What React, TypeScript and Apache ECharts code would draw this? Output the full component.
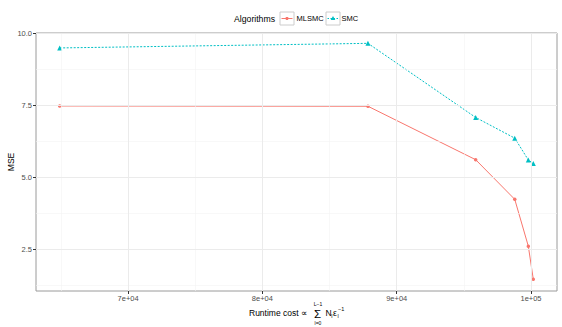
import React, { useEffect, useRef } from "react";
import * as echarts from "echarts";

const runtimeCost = [64907, 87860, 95880, 98790, 99800, 100170];
const mlsmcMSE = [7.48, 7.47, 5.61, 4.23, 2.6, 1.45];
const smcMSE = [9.5, 9.66, 7.08, 6.36, 5.6, 5.48];
const xTickValues = [70000, 80000, 90000, 100000];
const xTickLabels = ["7e+04", "8e+04", "9e+04", "1e+05"];
const xMinorGrid = [65000, 75000, 85000, 95000];
const yTickValues = [2.5, 5.0, 7.5, 10.0];
const yTickLabels = ["2.5", "5.0", "7.5", "10.0"];
const yMinorGrid = [1.25, 3.75, 6.25, 8.75];
const seriesNames = ["MLSMC", "SMC"];
const legendTitle = "Algorithms";
const yTitle = "MSE";

const RED = "#F8766D";
const CYAN = "#00BFC4";
const FONT = "Liberation Sans, Arial, sans-serif";

export default function App() {
  const ref = useRef<HTMLDivElement>(null);
  useEffect(() => {
    if (!ref.current) return;
    const chart = echarts.init(ref.current, undefined, { renderer: "svg" });
    const gridLines: any[] = [];
    xMinorGrid.forEach((v) => gridLines.push({ xAxis: v, lineStyle: { color: "#f3f3f3", width: 0.6, type: "solid" } }));
    yMinorGrid.forEach((v) => gridLines.push({ yAxis: v, lineStyle: { color: "#f3f3f3", width: 0.6, type: "solid" } }));
    xTickValues.forEach((v) => gridLines.push({ xAxis: v, lineStyle: { color: "#ebebeb", width: 1, type: "solid" } }));
    yTickValues.forEach((v) => gridLines.push({ yAxis: v, lineStyle: { color: "#ebebeb", width: 1, type: "solid" } }));

    const xLabelMap: Record<string, string> = {};
    xTickValues.forEach((v, i) => (xLabelMap[String(v)] = xTickLabels[i]));
    const yLabelMap: Record<string, string> = {};
    yTickValues.forEach((v, i) => (yLabelMap[String(v)] = yTickLabels[i]));

    const t = (text: string, x: number, y: number, size: number, align = "left", rotation = 0) => ({
      type: "text",
      x,
      y,
      rotation,
      style: { text, fontSize: size, fontFamily: FONT, fill: "#000", align, verticalAlign: "middle" },
    });

    const keyBox = (x: number, color: string, symbol: "circle" | "triangle", dashed: boolean) => ({
      type: "group",
      children: [
        { type: "rect", shape: { x, y: 12, width: 14, height: 13 }, style: { fill: "#fff", stroke: "#cccccc", lineWidth: 1 } },
        {
          type: "line",
          shape: { x1: x + 1.5, y1: 18.5, x2: x + 12.5, y2: 18.5 },
          style: { stroke: color, lineWidth: 1, lineDash: dashed ? [1.5, 1.5] : null },
        },
        symbol === "circle"
          ? { type: "circle", shape: { cx: x + 7, cy: 18.5, r: 1.6 }, style: { fill: color } }
          : { type: "polygon", shape: { points: [[x + 7, 16], [x + 9.3, 20], [x + 4.7, 20]] }, style: { fill: color } },
      ],
    });

    chart.setOption({
      animation: false,
      textStyle: { fontFamily: FONT },
      grid: {
        left: 36,
        right: 5,
        top: 33,
        bottom: 36,
        outerBoundsMode: "none",
        containLabel: false,
        show: true,
        borderColor: "#9a9a9a",
        borderWidth: 1,
        backgroundColor: "#fff",
      },
      xAxis: {
        type: "value",
        min: 63144,
        max: 101935,
        axisLine: { show: false },
        splitLine: { show: false },
        axisTick: { show: true, length: 3, lineStyle: { color: "#333" }, customValues: xTickValues },
        axisLabel: {
          customValues: xTickValues,
          margin: 3,
          fontSize: 7.5,
          color: "#4d4d4d",
          fontFamily: FONT,
          formatter: (v: number) => xLabelMap[String(v)] ?? "",
        },
      },
      yAxis: {
        type: "value",
        min: 1.04,
        max: 10.02,
        axisLine: { show: false },
        splitLine: { show: false },
        axisTick: { show: true, length: 3, lineStyle: { color: "#333" }, customValues: yTickValues },
        axisLabel: {
          customValues: yTickValues,
          margin: 4,
          fontSize: 7.5,
          color: "#4d4d4d",
          fontFamily: FONT,
          formatter: (v: number) => yLabelMap[String(v)] ?? v.toFixed(1),
        },
      },
      series: [
        {
          type: "line",
          name: "grid",
          data: [[runtimeCost[0], mlsmcMSE[0]]],
          showSymbol: false,
          lineStyle: { opacity: 0 },
          silent: true,
          z: 1,
          markLine: { silent: true, symbol: ["none", "none"], label: { show: false }, animation: false, data: gridLines },
        },
        {
          type: "line",
          name: seriesNames[0],
          data: runtimeCost.map((x, i) => [x, mlsmcMSE[i]]),
          symbol: "circle",
          symbolSize: 3.5,
          itemStyle: { color: RED },
          lineStyle: { color: RED, width: 1 },
          z: 3,
        },
        {
          type: "line",
          name: seriesNames[1],
          data: runtimeCost.map((x, i) => [x, smcMSE[i]]),
          symbol: "triangle",
          symbolSize: 5,
          itemStyle: { color: CYAN },
          lineStyle: { color: CYAN, width: 1, type: [2, 1.5] },
          z: 3,
        },
      ],
      graphic: [
        t(legendTitle, 234, 18.5, 8.7),
        keyBox(280, RED, "circle", false),
        t(seriesNames[0], 296.5, 18.5, 7.5),
        keyBox(326, CYAN, "triangle", true),
        t(seriesNames[1], 341.5, 18.5, 7.5),
        t(yTitle, 11, 162, 8.5, "center", Math.PI / 2),
        t("Runtime cost \u221D", 249, 313, 8.5),
        t("\u03A3", 317.5, 313.5, 11.5, "center"),
        t("L\u22121", 318, 303.5, 5, "center"),
        t("l=0", 318, 322.5, 5, "center"),
        t("N", 325.5, 313, 8.5),
        t("l", 331.2, 316, 5.5),
        t("\u03B5", 333, 313, 8.5),
        t("l", 337.5, 316, 5.5),
        t("\u22121", 338, 309, 5.5),
      ],
    });
    return () => chart.dispose();
  }, []);
  return <div ref={ref} style={{ width: 562, height: 327, position: "absolute", left: 0, top: 0 }} />;
}
